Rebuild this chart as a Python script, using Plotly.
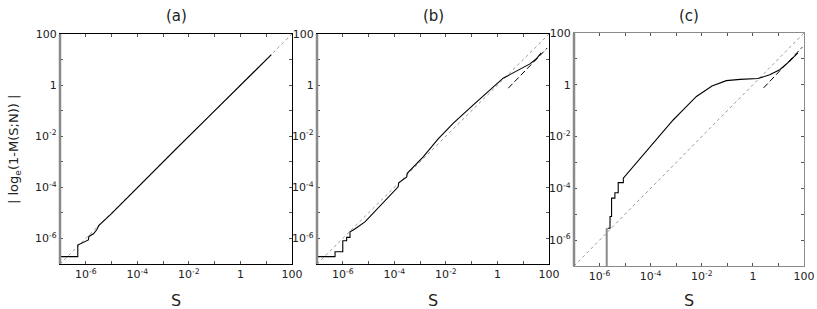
import plotly.graph_objects as go

# ---- data (log10 readings of S and |log_e(1-M(S;N))|) ----
a_logS = [-7.0, -6.31, -6.31, -6.05, -5.90, -5.88, -5.70, -5.58, -5.50, -5.00, -4.48, -3.50, -2.50, -1.25, 0.0, 0.60, 1.20]
a_logM = [-6.71, -6.71, -6.26, -6.15, -6.06, -5.92, -5.82, -5.67, -5.50, -5.03, -4.50, -3.52, -2.50, -1.25, 0.0, 0.58, 1.19]

b_logS = [-7.0, -6.30, -6.30, -6.00, -6.00, -5.85, -5.85, -5.72, -5.72, -5.59, -5.14, -4.50, -3.85, -3.83, -3.52, -3.50,
          -2.88, -2.30, -1.71, -1.00, -0.29, 0.22, 0.48, 0.93, 1.26, 1.50, 1.70]
b_logM = [-6.71, -6.71, -6.52, -6.52, -6.09, -6.09, -5.96, -5.96, -5.74, -5.67, -5.35, -4.68, -3.98, -3.82, -3.59, -3.45,
          -2.81, -2.10, -1.49, -0.83, -0.18, 0.27, 0.41, 0.67, 0.83, 1.02, 1.26]

c_vert_logS = [-5.72, -5.72]
c_vert_logM = [-7.0, -5.54]
c_logS = [-5.68, -5.59, -5.59, -5.53, -5.53, -5.40, -5.40, -5.27, -5.27, -5.07, -5.07, -4.88, -4.50, -4.16, -3.60, -3.12,
          -2.73, -2.21, -1.60, -1.04, -0.50, 0.20, 0.66, 1.05, 1.44, 1.76]
c_logM = [-5.54, -5.54, -5.09, -5.09, -4.38, -4.38, -4.17, -4.17, -3.78, -3.78, -3.61, -3.39, -2.95, -2.52, -1.90, -1.36,
          -0.97, -0.45, -0.05, 0.16, 0.21, 0.24, 0.39, 0.58, 0.91, 1.23]

asym_logS = [0.42, 1.93]
asym_logM = [-0.12, 1.45]

diag_log = [-7.0, 2.0]

tick_exps = [-7, -6, -5, -4, -3, -2, -1, 0, 1, 2]
tick_text = ["", "10<sup>-6</sup>", "", "10<sup>-4</sup>", "", "10<sup>-2</sup>", "", "1", "", "100"]
titles = ["(a)", "(b)", "(c)"]

def p(v):
    return [10.0 ** x for x in v]

W, H = 817, 309
panels = [  # left, right, top, bottom in pixels
    (60, 292, 34, 264),
    (317, 549, 34, 264),
    (574, 804, 33, 266),
]

fig = go.Figure()
FONT = "DejaVu Sans"
GRAY = "#8a8a8a"

series = [
    [(a_logS, a_logM, "black", "solid", 1.1)],
    [(b_logS, b_logM, "black", "solid", 1.1), (asym_logS, asym_logM, "black", "6px,3px", 1.0)],
    [(c_vert_logS, c_vert_logM, GRAY, "solid", 2.0), (c_logS, c_logM, "black", "solid", 1.1),
     (asym_logS, asym_logM, "black", "6px,3px", 1.0)],
]

for i, (l, r, t, b) in enumerate(panels):
    xa = "x" if i == 0 else f"x{i+1}"
    ya = "y" if i == 0 else f"y{i+1}"
    xk = "xaxis" if i == 0 else f"xaxis{i+1}"
    yk = "yaxis" if i == 0 else f"yaxis{i+1}"
    fig.add_trace(go.Scatter(x=p(diag_log), y=p(diag_log), mode="lines",
                             line=dict(color="#999999", width=1, dash="dot"),
                             xaxis=xa, yaxis=ya, showlegend=False, hoverinfo="skip"))
    for sx, sy, col, dash, w in series[i]:
        fig.add_trace(go.Scatter(x=p(sx), y=p(sy), mode="lines",
                                 line=dict(color=col, width=w, dash=dash, shape="linear"),
                                 xaxis=xa, yaxis=ya, showlegend=False))
    frame_col = GRAY if i == 2 else "black"
    common = dict(type="log", range=[-7, 2], tickmode="array",
                  tickvals=[10.0 ** e for e in tick_exps], ticktext=tick_text,
                  ticks="inside", ticklen=3, tickcolor="#555", showgrid=False, zeroline=False,
                  tickfont=dict(family=FONT, size=11, color="#222"), mirror="allticks",
                  showline=True, automargin=False)
    fig.layout[xk] = dict(common, domain=[l / W, r / W], anchor=ya, linecolor=frame_col, linewidth=1.2)
    fig.layout[yk] = dict(common, domain=[1 - b / H, 1 - t / H], anchor=xa, linecolor=frame_col,
                          linewidth=1.2)
    fig.add_shape(type="line", xref=f"{xa} domain", yref=f"{ya} domain", x0=0, x1=0, y0=0, y1=1,
                  line=dict(color=GRAY, width=2.5))
    fig.add_annotation(text=titles[i], xref="paper", yref="paper", x=(l + r) / 2 / W, y=1 - 16 / H,
                       showarrow=False, font=dict(family=FONT, size=15, color="#222"),
                       xanchor="center", yanchor="middle")
    fig.add_annotation(text="S", xref="paper", yref="paper", x=(l + r) / 2 / W, y=1 - 300 / H,
                       showarrow=False, font=dict(family=FONT, size=16, color="#222"),
                       xanchor="center", yanchor="middle")

fig.add_annotation(text="| log<sub>e</sub>(1-M(S;N)) |", xref="paper", yref="paper",
                   x=14 / W, y=1 - 150 / H, textangle=-90, showarrow=False,
                   font=dict(family=FONT, size=13, color="#222"), xanchor="center", yanchor="middle")

fig.update_layout(width=W, height=H, margin=dict(l=0, r=0, t=0, b=0),
                  plot_bgcolor="white", paper_bgcolor="white")
fig.write_html("out.html", config={"displayModeBar": False},
               post_script="document.body.style.margin='0';document.body.style.overflow='hidden';")
